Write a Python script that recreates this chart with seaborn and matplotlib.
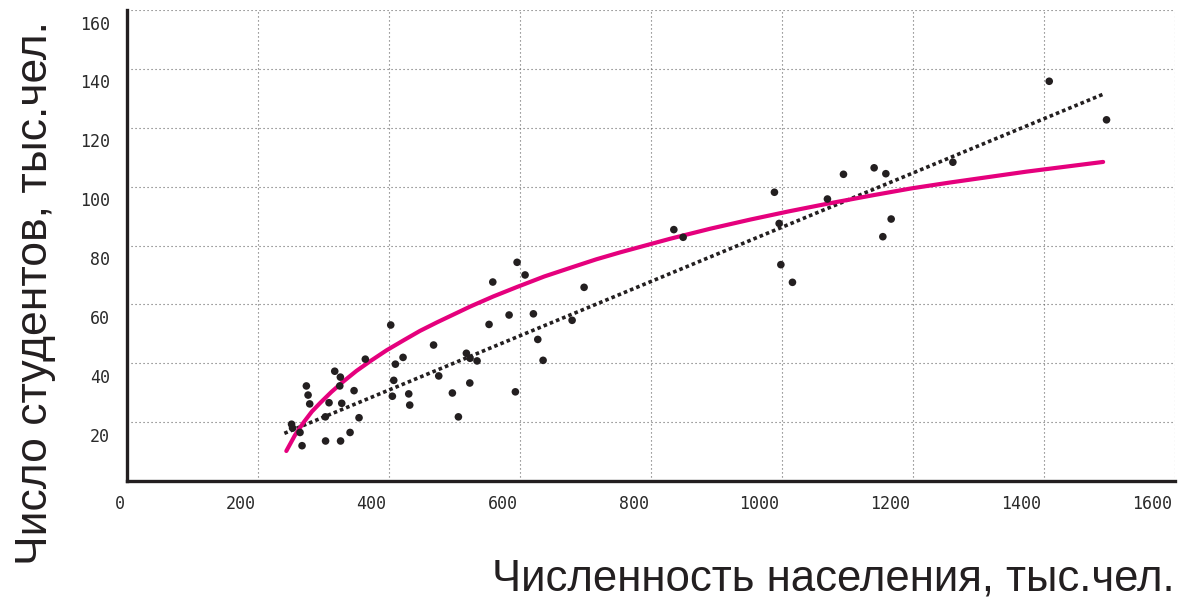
import numpy as np
import pandas as pd
import seaborn as sns
import matplotlib.pyplot as plt
import matplotlib.transforms as mtransforms

# численность населения (тыс.чел.) и число студентов (тыс.чел.)
population = [403.4, 468.8, 364.6, 422.2, 410.5, 317.9, 326.5, 325.6, 347.4, 408.0,
              476.7, 274.6, 277.2, 279.7, 309.2, 328.6, 430.9, 405.9, 432.4, 303.6,
              355.0, 252.0, 253.5, 264.9, 268.0, 303.9, 326.8, 341.3, 596.3, 608.5,
              559.2, 698.6, 584.1, 621.2, 553.5, 680.3, 627.9, 518.9, 524.5, 535.2,
              636.0, 524.1, 497.5, 593.7, 506.7, 835.6, 849.8, 989.2, 1094.6, 1141.4,
              1159.3, 1070.1, 996.4, 1167.4, 1154.7, 999.0, 1016.7, 1408.7, 1496.2, 1261.6]
students = [53.0, 46.2, 41.4, 42.0, 39.7, 37.3, 35.3, 32.3, 30.7, 34.2,
            35.7, 32.3, 29.2, 26.2, 26.6, 26.4, 29.6, 28.8, 25.8, 21.8,
            21.5, 19.3, 18.0, 16.5, 12.0, 13.6, 13.6, 16.5, 74.3, 70.0,
            67.6, 65.8, 56.4, 56.8, 53.2, 54.6, 48.1, 43.4, 41.7, 40.8,
            41.0, 33.3, 29.9, 30.3, 21.8, 85.4, 82.8, 98.1, 104.2, 106.4,
            104.4, 95.8, 87.5, 89.0, 83.0, 73.5, 67.5, 135.8, 122.7, 108.3]

# линии тренда
curve_x = [244, 257, 270, 283, 296, 313, 331, 351, 372, 397, 423, 448, 474, 525, 560,
           596, 638, 680, 717, 754, 830, 891, 952, 1011, 1070, 1140, 1198, 1257, 1374, 1491]
curve_y = [10.2, 15.5, 19.8, 23.6, 26.6, 30.3, 33.8, 37.4, 40.7, 44.4, 47.8, 51.0, 53.9, 59.3, 62.7,
           65.9, 69.5, 72.6, 75.3, 77.7, 82.3, 85.7, 88.8, 91.6, 94.2, 97.1, 99.4, 101.4, 105.1, 108.4]
linear_x = [241, 1491]
linear_y = [16.2, 131.4]

x_ticks = [0, 200, 400, 600, 800, 1000, 1200, 1400, 1600]
y_ticks = [20, 40, 60, 80, 100, 120, 140, 160]

sns.set_theme(style='white')
plt.rcParams['font.family'] = ['Liberation Sans', 'DejaVu Sans']

df = pd.DataFrame({'pop': population, 'stud': students})
curve = pd.DataFrame({'x': curve_x, 'y': curve_y})
linear = pd.DataFrame({'x': linear_x, 'y': linear_y})

fig = plt.figure(figsize=(11.79, 6.04), dpi=100)
ax = fig.add_axes([0.1073, 0.2036, 0.8889, 0.7798])

sns.lineplot(data=linear, x='x', y='y', ax=ax, color='#231f20', linewidth=2.6,
             linestyle=(0, (1, 0.85)), zorder=2)
ax.lines[-1].set_dash_capstyle('butt')
sns.lineplot(data=curve, x='x', y='y', ax=ax, color='#e5007d', linewidth=3.0, zorder=2)
ax.lines[-1].set_solid_joinstyle('round')
sns.scatterplot(data=df, x='pop', y='stud', ax=ax, color='#231f20', s=30,
                edgecolor='none', zorder=3)

ax.set_xlim(0, 1600)
ax.set_ylim(0, 160)
ax.set_xticks(x_ticks, [str(t) for t in x_ticks])
ax.set_yticks(y_ticks, [str(t) for t in y_ticks])
ax.grid(True, linestyle=(0, (1, 2.6)), color='#666666', linewidth=0.8)

for side in ['top', 'right']:
    ax.spines[side].set_visible(False)
for side in ['left', 'bottom']:
    ax.spines[side].set_color('#231f20')
    ax.spines[side].set_linewidth(2.4)

ax.tick_params(axis='both', length=0, labelsize=12, labelcolor='#2a2a2a')
ax.tick_params(axis='x', pad=10)
ax.tick_params(axis='y', pad=12)
for lab in ax.get_xticklabels() + ax.get_yticklabels():
    lab.set_fontfamily('DejaVu Sans Mono')

# подписи x прижаты вправо к линии сетки, подписи y сдвинуты вниз
dx = mtransforms.ScaledTranslation(-2 / 100, 0, fig.dpi_scale_trans)
for lab in ax.get_xticklabels():
    lab.set_horizontalalignment('right')
    lab.set_transform(lab.get_transform() + dx)
dy = mtransforms.ScaledTranslation(0, -12.5 / 100, fig.dpi_scale_trans)
for lab in ax.get_yticklabels():
    lab.set_transform(lab.get_transform() + dy)

ax.set_xlabel('Численность населения, тыс.чел.', fontsize=31.5, color='#231f20', loc='right')
ax.xaxis.set_label_coords(1.0, -0.165)
ax.set_ylabel('Число студентов, тыс.чел.', fontsize=32, color='#231f20')
ax.yaxis.set_label_coords(-0.087, 0.40)
ax.yaxis.label.set_verticalalignment('center')

plt.savefig('out.png', dpi=100)
